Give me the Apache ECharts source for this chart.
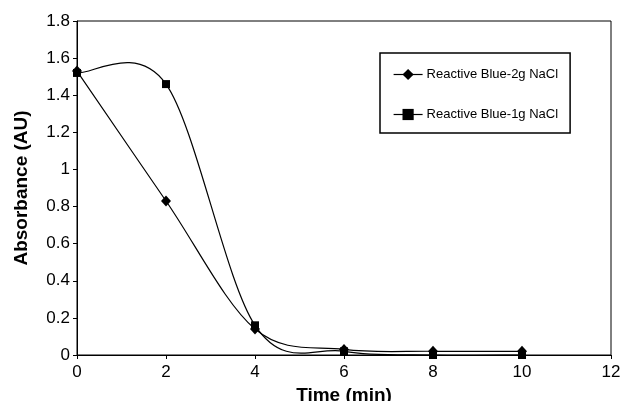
<!DOCTYPE html>
<html><head><meta charset="utf-8">
<script src="https://cdn.jsdelivr.net/npm/echarts@6/dist/echarts.min.js"></script>
<style>html,body{margin:0;padding:0;background:#fff}#c{width:621px;height:401px}</style>
</head><body><div id="c"></div>
<script>
const times = [0, 2, 4, 6, 8, 10];
const blue2g = [1.53, 0.83, 0.14, 0.03, 0.02, 0.02];
const blue1g = [1.52, 1.46, 0.16, 0.02, 0.0, 0.0];
const seriesNames = ['Reactive Blue-2g NaCl', 'Reactive Blue-1g NaCl'];
const font = 'Liberation Sans, Arial, sans-serif';

// Excel-style smoothed curve (Catmull-Rom bezier) drawn through the data via the axis scales
function smoothCurve(name, vals) {
  const n = times.length;
  return {
    name: name, type: 'custom', clip: false, z: 2, silent: true,
    data: times.map((t, i) => [t, vals[i]]),
    encode: { x: 0, y: 1 },
    renderItem: function (params, api) {
      const i = params.dataIndex;
      if (i >= n - 1) return null;
      const P = j => { const k = Math.max(0, Math.min(n - 1, j)); return api.coord([times[k], vals[k]]); };
      const p0 = P(i - 1), p1 = P(i), p2 = P(i + 1), p3 = P(i + 2);
      return {
        type: 'bezierCurve',
        shape: {
          x1: p1[0], y1: p1[1], x2: p2[0], y2: p2[1],
          cpx1: p1[0] + (p2[0] - p0[0]) / 6, cpy1: p1[1] + (p2[1] - p0[1]) / 6,
          cpx2: p2[0] - (p3[0] - p1[0]) / 6, cpy2: p2[1] - (p3[1] - p1[1]) / 6
        },
        style: { stroke: '#000', fill: null, lineWidth: 1.2 }
      };
    }
  };
}

const chart = echarts.init(document.getElementById('c'));
chart.setOption({
  animation: false,
  backgroundColor: '#fff',
  grid: { left: 77, right: 10, top: 21, bottom: 46, show: true, borderColor: '#000', borderWidth: 1,
          containLabel: false, outerBoundsMode: 'none' },
  legend: {
    orient: 'vertical', left: 380, top: 53, padding: [15, 12, 12, 13],
    itemGap: 27, itemWidth: 29, itemHeight: 14,
    borderColor: '#000', borderWidth: 1.5,
    lineStyle: { opacity: 1, width: 1.2, color: '#000' },
    textStyle: { fontFamily: font, fontSize: 13, color: '#000', padding: [0, 0, 0, -1] },
    data: seriesNames
  },
  xAxis: {
    type: 'value', min: 0, max: 12, interval: 2,
    name: 'Time (min)', nameLocation: 'middle', nameGap: 29,
    nameTextStyle: { fontFamily: font, fontSize: 19, fontWeight: 'bold', color: '#000' },
    axisLine: { lineStyle: { color: '#000', width: 1 } },
    axisTick: { show: true, inside: false, length: 4, lineStyle: { color: '#000' } },
    axisLabel: { fontFamily: font, fontSize: 17, color: '#000', margin: 9 },
    splitLine: { show: false }
  },
  yAxis: {
    type: 'value', min: 0, max: 1.8, interval: 0.2,
    name: 'Absorbance (AU)', nameLocation: 'middle', nameGap: 46,
    nameTextStyle: { fontFamily: font, fontSize: 19, fontWeight: 'bold', color: '#000' },
    axisLine: { show: true, lineStyle: { color: '#000', width: 1 } },
    axisTick: { show: true, inside: false, length: 4, lineStyle: { color: '#000' } },
    axisLabel: { fontFamily: font, fontSize: 17, color: '#000', margin: 7,
      formatter: v => String(Math.round(v * 10) / 10) },
    splitLine: { show: false }
  },
  series: [
    smoothCurve('curve-2g', blue2g),
    smoothCurve('curve-1g', blue1g),
    { name: seriesNames[0], type: 'line', z: 5,
      data: times.map((t, i) => [t, blue2g[i]]),
      symbol: 'diamond', symbolSize: [10, 11],
      itemStyle: { color: '#000' }, lineStyle: { color: '#000', width: 1.2, opacity: 0 } },
    { name: seriesNames[1], type: 'line', z: 5,
      data: times.map((t, i) => [t, blue1g[i]]),
      symbol: 'rect', symbolSize: 8,
      itemStyle: { color: '#000' }, lineStyle: { color: '#000', width: 1.2, opacity: 0 } }
  ]
});
</script></body></html>
